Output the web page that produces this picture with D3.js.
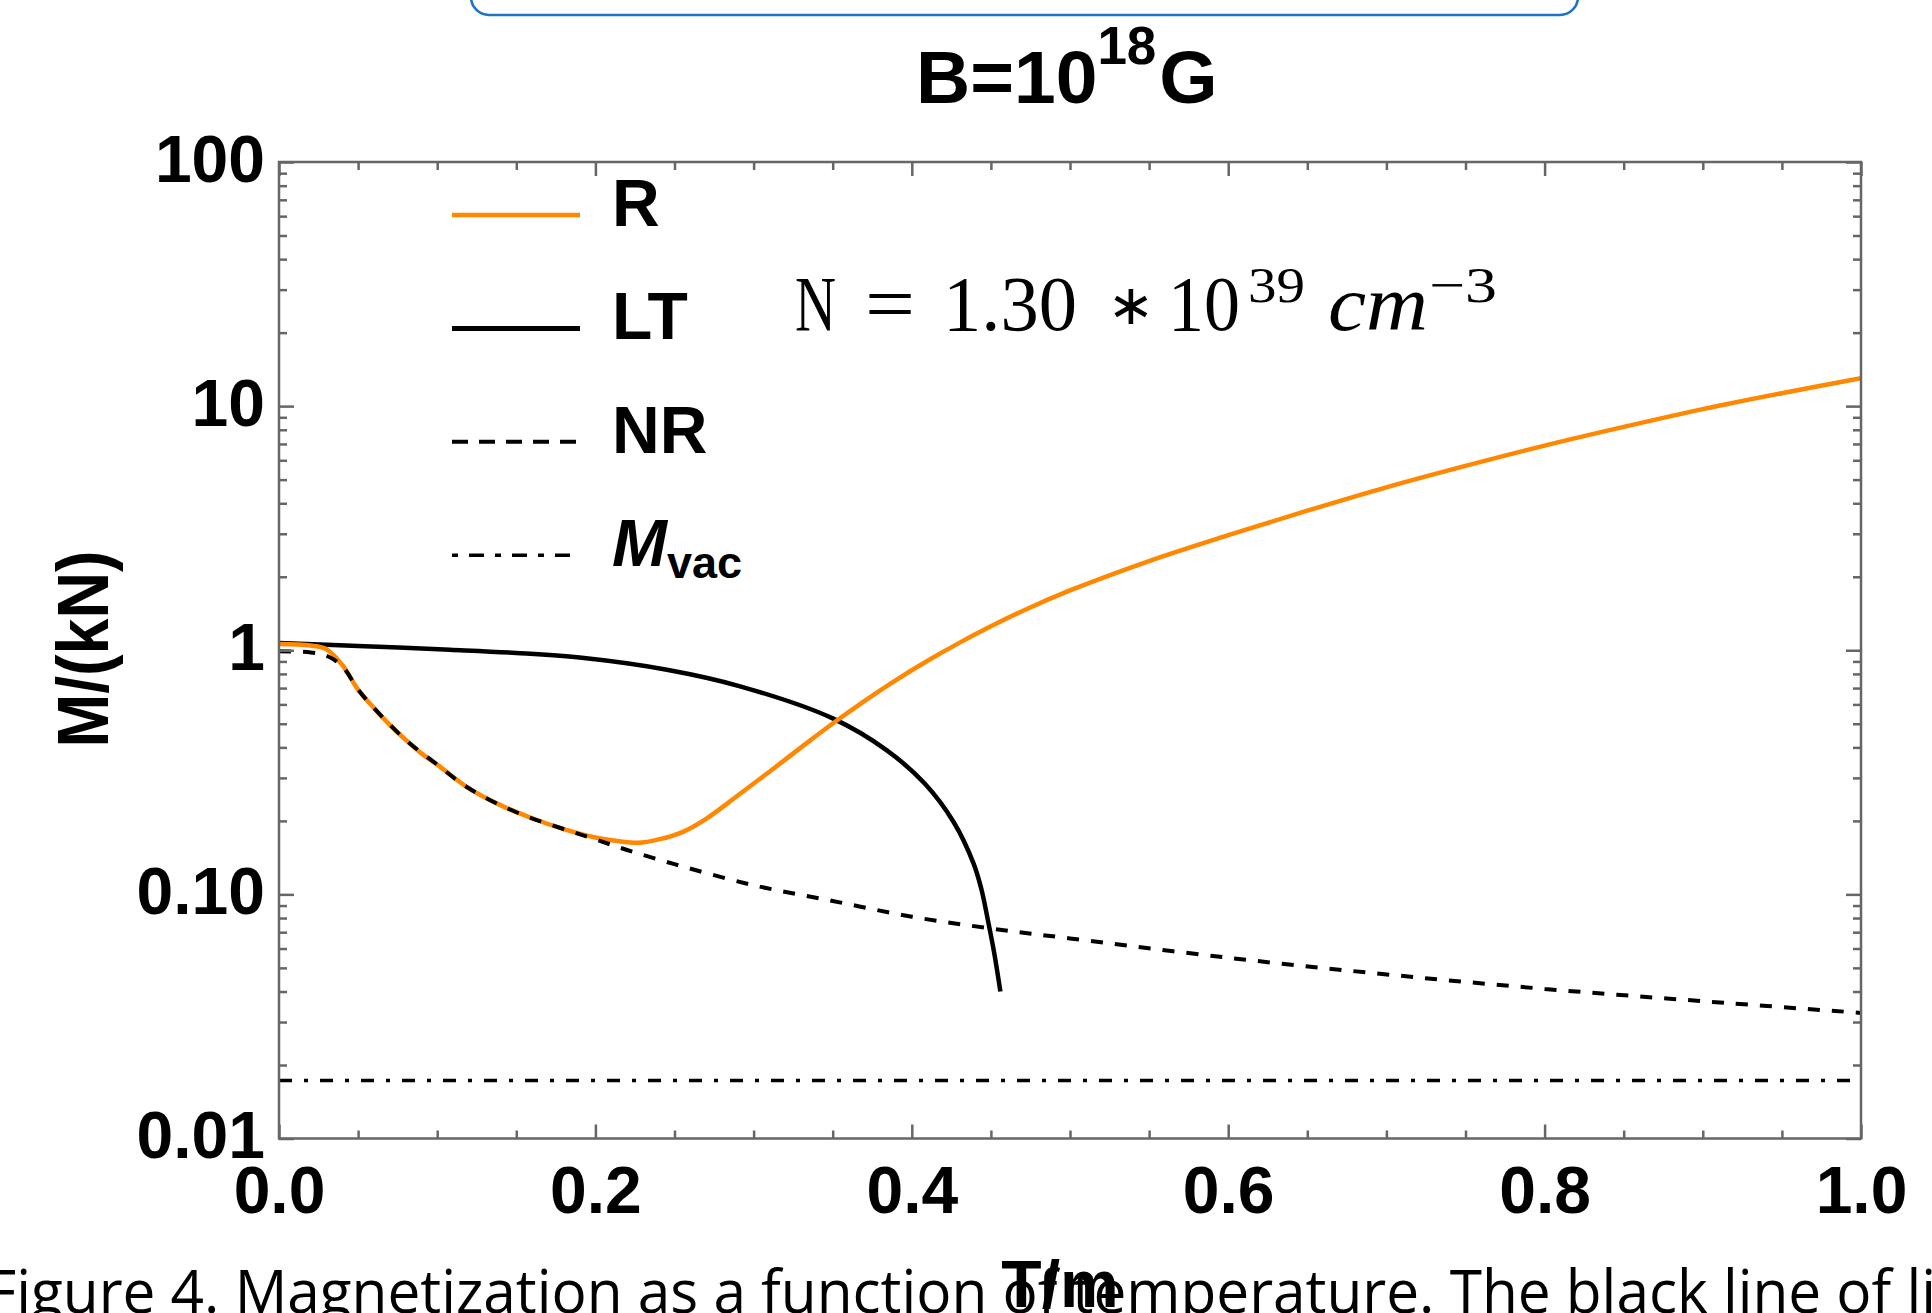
<!DOCTYPE html>
<html>
<head>
<meta charset="utf-8">
<script src="https://cdn.jsdelivr.net/npm/d3@7"></script>
<style>
body { margin: 0; background: #fff; }
svg { display: block; }
</style>
</head>
<body>
<svg id="chart" width="1932" height="1313"></svg>
<script>
// values: T/m and M/(kN)
var tR = [0, 0.02, 0.03, 0.04, 0.05, 0.06, 0.07, 0.08, 0.09, 0.10, 0.12, 0.14, 0.16, 0.18, 0.20, 0.215, 0.227, 0.24, 0.255, 0.27, 0.29, 0.31, 0.33, 0.35, 0.37, 0.39, 0.41, 0.43, 0.45, 0.47, 0.50, 0.55, 0.60, 0.65, 0.70, 0.75, 0.80, 0.85, 0.90, 0.95, 1.00];
var mR = [1.06, 1.045, 1.01, 0.87, 0.69, 0.58, 0.495, 0.43, 0.378, 0.34, 0.272, 0.232, 0.205, 0.185, 0.171, 0.165, 0.1626, 0.168, 0.180, 0.204, 0.254, 0.318, 0.400, 0.501, 0.619, 0.755, 0.906, 1.072, 1.253, 1.449, 1.758, 2.32, 2.96, 3.73, 4.65, 5.69, 6.89, 8.22, 9.72, 11.3, 13.0];

var tLT = [0, 0.05, 0.108, 0.15, 0.19, 0.246, 0.292, 0.35, 0.384, 0.408, 0.4266, 0.439, 0.444, 0.448, 0.452, 0.456];
var mLT = [1.07, 1.042, 1.005, 0.975, 0.933, 0.83, 0.71, 0.526, 0.39, 0.285, 0.197, 0.134, 0.105, 0.079, 0.058, 0.040];

var tNR = [0, 0.02, 0.03, 0.04, 0.05, 0.06, 0.08, 0.10, 0.12, 0.15, 0.20, 0.22, 0.25, 0.30, 0.35, 0.40, 0.45, 0.50, 0.60, 0.70, 0.80, 0.90, 1.00];
var mNR = [0.99, 0.98, 0.95, 0.86, 0.69, 0.58, 0.43, 0.34, 0.272, 0.217, 0.168, 0.152, 0.133, 0.109, 0.094, 0.081, 0.0725, 0.066, 0.055, 0.047, 0.041, 0.0365, 0.0327];

var tVac = [0, 1];
var mVac = [0.0173, 0.0173];

var xTicks = [0, 0.2, 0.4, 0.6, 0.8, 1.0];
var xTickLabels = ["0.0", "0.2", "0.4", "0.6", "0.8", "1.0"];
var yTicks = [0.01, 0.1, 1, 10, 100];
var yTickLabels = ["0.01", "0.10", "1", "10", "100"];

var legendNames = ["R", "LT", "NR", "Mvac"];

var svg = d3.select("#chart");
var boldFont = "'Liberation Sans', Arial, sans-serif";
var serifFont = "'Liberation Serif', 'DejaVu Serif', serif";
var axisColor = "#666";

var x = d3.scaleLinear().domain([0, 1]).range([279, 1861]);
var y = d3.scaleLog().domain([0.01, 100]).range([1138.5, 162]);

svg.append("rect").attr("width", 1932).attr("height", 1313).attr("fill", "#fff");

// the box edge left over at the top of the page
svg.append("rect")
  .attr("x", 471).attr("y", -30).attr("width", 1107).attr("height", 45).attr("rx", 18)
  .attr("fill", "none").attr("stroke", "#1c74c4").attr("stroke-width", 2.5);

// title B=10^18 G
var title = svg.append("text")
  .attr("x", 916).attr("y", 102.5)
  .style("font-family", boldFont).style("font-weight", "bold").style("font-size", "75px");
title.append("tspan").text("B=10");
title.append("tspan").attr("dy", -39).style("font-size", "53px").text("18");
title.append("tspan").attr("dy", 39).attr("dx", 3).text("G");

// series styles
var seriesStyle = {
  R: { stroke: "#ff8800", width: 4.5, dash: null },
  LT: { stroke: "#000", width: 4.5, dash: null },
  NR: { stroke: "#000", width: 4, dash: "12,12" },
  Mvac: { stroke: "#000", width: 3.5, dash: "13,12,4,12" }
};

var series = [
  { name: "LT", t: tLT, m: mLT },
  { name: "R", t: tR, m: mR },
  { name: "NR", t: tNR, m: mNR },
  { name: "Mvac", t: tVac, m: mVac }
];

svg.append("clipPath").attr("id", "plotclip")
  .append("rect").attr("x", 279).attr("y", 162).attr("width", 1582).attr("height", 976.5);

var line = d3.line()
  .x(function (d) { return x(d[0]) })
  .y(function (d) { return y(d[1]) })
  .curve(d3.curveCatmullRom.alpha(0.5));

svg.append("g").attr("clip-path", "url(#plotclip)")
  .selectAll("path")
  .data(series)
  .enter()
  .append("path")
  .attr("d", function (s) { return line(s.t.map(function (t, i) { return [t, s.m[i]] })) })
  .attr("fill", "none")
  .attr("stroke", function (s) { return seriesStyle[s.name].stroke })
  .attr("stroke-width", function (s) { return seriesStyle[s.name].width })
  .attr("stroke-dasharray", function (s) { return seriesStyle[s.name].dash })
  .attr("stroke-linejoin", "round");

// ticks: majors and minors on all four sides, pointing inward
var xMinor = d3.range(21).filter(function (i) { return i % 4 != 0 }).map(function (i) { return i * 0.05 });
var yMinor = [];
[0.01, 0.1, 1, 10].forEach(function (d) { for (var k = 2; k < 10; k++) yMinor.push(d * k) });

function tickAxis(gen, tx, ty, vals, len) {
  var g = svg.append("g")
    .attr("transform", "translate(" + tx + "," + ty + ")")
    .call(gen.tickValues(vals).tickSize(-len).tickFormat(""));
  g.select(".domain").remove();
  g.selectAll("line").attr("stroke", axisColor).attr("stroke-width", 2.5);
  return g;
}

tickAxis(d3.axisTop(x), 0, 162, xMinor, 8);
tickAxis(d3.axisTop(x), 0, 162, xTicks, 14);
tickAxis(d3.axisBottom(x), 0, 1138.5, xMinor, 8);
tickAxis(d3.axisRight(y), 1861, 0, yMinor, 8);
tickAxis(d3.axisRight(y), 1861, 0, yTicks, 15);
tickAxis(d3.axisLeft(y), 279, 0, yMinor, 8);

var xAxis = svg.append("g")
  .attr("transform", "translate(0,1138.5)")
  .call(d3.axisBottom(x).tickValues(xTicks).tickSize(-14).tickPadding(28)
    .tickFormat(function (d, i) { return xTickLabels[i] }));
xAxis.select(".domain").remove();

var yAxis = svg.append("g")
  .attr("transform", "translate(279,0)")
  .call(d3.axisLeft(y).tickValues(yTicks).tickSize(-15).tickPadding(14)
    .tickFormat(function (d, i) { return yTickLabels[i] }));
yAxis.select(".domain").remove();
yAxis.selectAll("text").attr("dy", "0.29em");

[xAxis, yAxis].forEach(function (g) {
  g.selectAll("line").attr("stroke", axisColor).attr("stroke-width", 2.5);
  g.selectAll("text")
    .attr("fill", "#000")
    .style("font-family", boldFont).style("font-weight", "bold").style("font-size", "66px");
});

// frame
svg.append("rect")
  .attr("x", 279).attr("y", 162).attr("width", 1582).attr("height", 976.5)
  .attr("fill", "none").attr("stroke", axisColor).attr("stroke-width", 2.5);

// legend, top left inside the frame
var legend = svg.append("g");
var legendRow = legendNames.map(function (n, i) { return { name: n, i: i } });

legend.selectAll("line")
  .data(legendRow)
  .enter()
  .append("line")
  .attr("x1", 452).attr("x2", 580)
  .attr("y1", function (d) { return 215 + d.i * 113.4 })
  .attr("y2", function (d) { return 215 + d.i * 113.4 })
  .attr("stroke", function (d) { return seriesStyle[d.name].stroke })
  .attr("stroke-width", function (d) { return d.name == "LT" ? 5 : seriesStyle[d.name].width })
  .attr("stroke-dasharray", function (d) { return d.name == "NR" ? "16,11" : (d.name == "Mvac" ? "6,11,15,11" : null) });

var labels = legend.selectAll("text")
  .data(legendRow)
  .enter()
  .append("text")
  .attr("x", 612)
  .attr("y", function (d) { return 226 + d.i * 113.4 })
  .style("font-family", boldFont).style("font-weight", "bold").style("font-size", "66px");

labels.filter(function (d) { return d.name != "Mvac" }).text(function (d) { return d.name });
var vacLabel = labels.filter(function (d) { return d.name == "Mvac" });
vacLabel.append("tspan").style("font-style", "italic").text("M");
vacLabel.append("tspan").attr("dy", 12).style("font-size", "45px").text("vac");

// density note, each piece fitted to its place
var noteParts = [
  { t: "N", x: 795, w: 41, base: 330, size: 78 },
  { t: "=", x: 865, w: 50, base: 330, size: 78 },
  { t: "1.30", x: 943, w: 134, base: 330, size: 78 },
  { t: "10", x: 1168, w: 72, base: 330, size: 78 },
  { t: "39", x: 1248, w: 57, base: 302, size: 50 },
  { t: "cm", x: 1328, w: 100, base: 330, size: 78, italic: true },
  { t: "\u22123", x: 1429, w: 68, base: 302, size: 50 }
];
svg.selectAll(".note")
  .data(noteParts)
  .enter()
  .append("text")
  .attr("class", "note")
  .attr("x", function (p) { return p.x })
  .attr("y", function (p) { return p.base })
  .attr("textLength", function (p) { return p.w })
  .attr("lengthAdjust", "spacingAndGlyphs")
  .style("font-family", serifFont)
  .style("font-size", function (p) { return p.size + "px" })
  .style("font-style", function (p) { return p.italic ? "italic" : null })
  .text(function (p) { return p.t });

svg.append("text")
  .attr("x", 1131).attr("y", 324)
  .attr("text-anchor", "middle")
  .style("font-family", "'DejaVu Sans', sans-serif").style("font-size", "56px")
  .text("\u2217");

// axis titles
svg.append("text")
  .attr("transform", "translate(108,649) rotate(-90)")
  .attr("text-anchor", "middle")
  .attr("textLength", 197).attr("lengthAdjust", "spacingAndGlyphs")
  .style("font-family", boldFont).style("font-weight", "bold").style("font-size", "72px")
  .text("M/(kN)");

svg.append("text")
  .attr("x", 1060).attr("y", 1307)
  .attr("text-anchor", "middle")
  .style("font-family", boldFont).style("font-weight", "bold").style("font-size", "66px")
  .text("T/m");

// caption of the page, cut off by the bottom edge
svg.append("text")
  .attr("x", -14).attr("y", 1313)
  .attr("textLength", 1950).attr("lengthAdjust", "spacingAndGlyphs")
  .style("font-family", "'Open Sans', 'Noto Sans', sans-serif").style("font-size", "60px")
  .text("Figure 4. Magnetization as a function of temperature. The black line of li");
</script>
</body>
</html>
